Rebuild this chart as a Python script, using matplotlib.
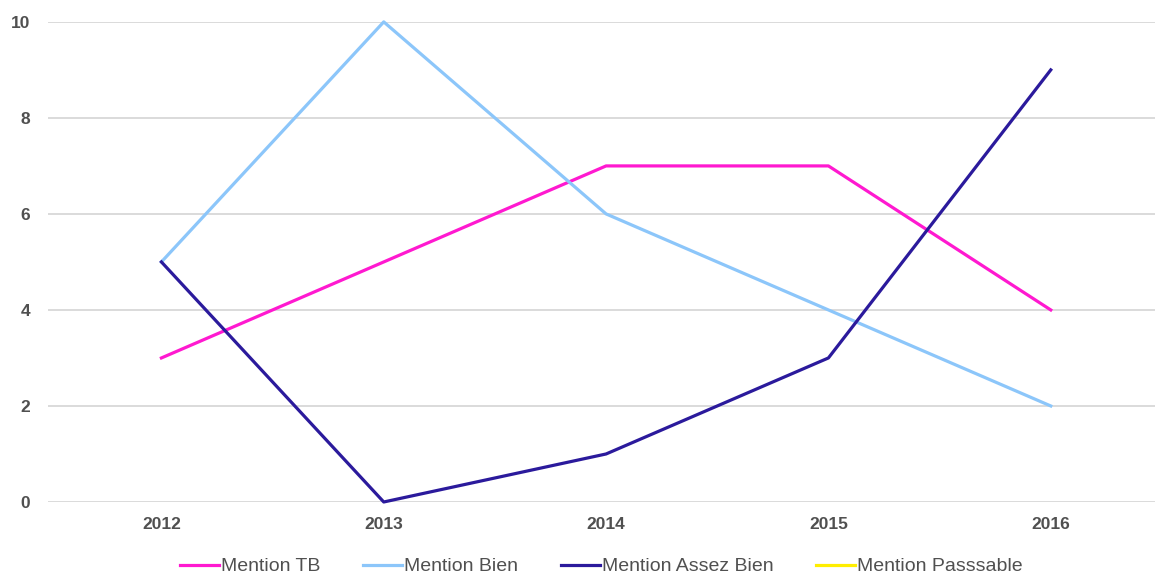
import matplotlib
matplotlib.use("Agg")
import matplotlib.pyplot as plt
import numpy as np

years = ["2012", "2013", "2014", "2015", "2016"]
mention_tb = [3, 5, 7, 7, 4]
mention_bien = [5, 10, 6, 4, 2]
mention_assez_bien = [5, 0, 1, 3, 9]
mention_passable = [np.nan, np.nan, np.nan, np.nan, np.nan]

series = [
    ("Mention TB", mention_tb, "#ff19d0"),
    ("Mention Bien", mention_bien, "#8cc6fa"),
    ("Mention Assez Bien", mention_assez_bien, "#2b1a9c"),
    ("Mention Passsable", mention_passable, "#ffee00"),
]

plt.rcParams["font.family"] = ["Liberation Sans", "DejaVu Sans"]

fig = plt.figure(figsize=(11.57, 5.76), dpi=100)
ax = fig.add_axes([0.0415, 0.1285, 0.957, 0.8335])

x = np.arange(len(years))
for name, vals, col in series:
    ax.plot(x, vals, color=col, lw=2.3, label=name, clip_on=False)

ax.set_xlim(-0.51, 4.47)
ax.set_ylim(0, 10)
ax.set_xticks(x)
ax.set_xticklabels(years)
ax.set_yticks([0, 2, 4, 6, 8, 10])
ax.yaxis.grid(True, color="#d8d8d8", lw=1.3)
ax.set_axisbelow(True)
for s in ax.spines.values():
    s.set_visible(False)
ax.tick_params(length=0, labelsize=12.5, colors="#505050")
ax.tick_params(axis="x", pad=10.5)
ax.tick_params(axis="y", pad=13)
for lbl in ax.get_xticklabels() + ax.get_yticklabels():
    lbl.set_fontweight("bold")

ax.legend(loc="upper center", bbox_to_anchor=(0.5, -0.088), ncol=4, frameon=False,
          fontsize=14, labelcolor="#505050", handlelength=2.0, handletextpad=0.1,
          columnspacing=2.2, borderpad=0.2)

fig.savefig("out.png", dpi=100)
